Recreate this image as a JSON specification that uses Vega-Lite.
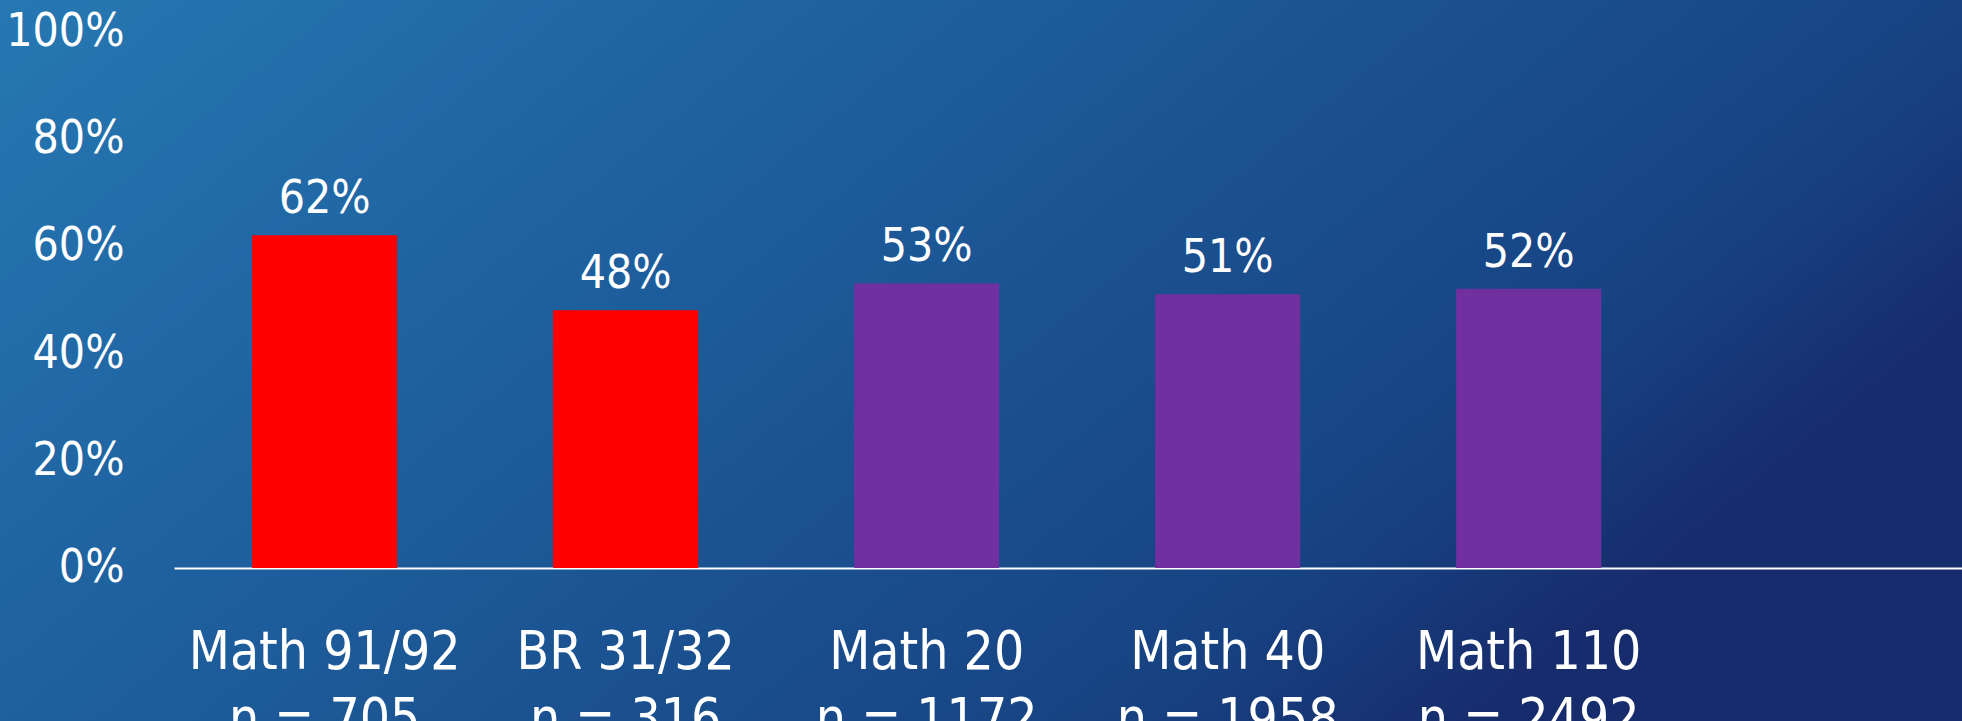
{
  "$schema": "https://vega.github.io/schema/vega-lite/v6.json",
  "width": 1962,
  "height": 721,
  "autosize": "none",
  "padding": 0,
  "background": "#1d5592",
  "config": {
    "font": "DejaVu Sans Condensed, DejaVu Sans, sans-serif",
    "view": {
      "stroke": null,
      "fill": {
        "gradient": "linear",
        "x1": 0, "y1": 0, "x2": 1, "y2": 0.45,
        "stops": [
          {"offset": 0, "color": "#2678b2"},
          {"offset": 0.33, "color": "#1f63a1"},
          {"offset": 0.6, "color": "#1b5291"},
          {"offset": 0.85, "color": "#174282"},
          {"offset": 1, "color": "#172c6c"}
        ]
      }
    }
  },
  "data": {
    "values": [
      {"label": "Math 91/92|n = 705", "value": 0.62, "group": "A"},
      {"label": "BR 31/32|n = 316", "value": 0.48, "group": "A"},
      {"label": "Math 20|n = 1172", "value": 0.53, "group": "B"},
      {"label": "Math 40|n = 1958", "value": 0.51, "group": "B"},
      {"label": "Math 110|n = 2492", "value": 0.52, "group": "B"}
    ]
  },
  "encoding": {
    "x": {
      "field": "label",
      "type": "nominal",
      "sort": null,
      "scale": {"range": [174, 1962], "paddingInner": 0.518, "paddingOuter": 0.729, "align": 0.178},
      "axis": {
        "title": null,
        "orient": "bottom",
        "offset": -153,
        "domainColor": "#ffffff",
        "domainWidth": 2,
        "ticks": false,
        "labelAngle": 0,
        "labelPadding": 58,
        "labelFontSize": 53,
        "labelColor": "#ffffff",
        "labelLineHeight": 67,
        "labelBaseline": "top",
        "labelLimit": 600,
        "labelExpr": "split(datum.label, '|')"
      }
    },
    "y": {
      "field": "value",
      "type": "quantitative",
      "scale": {"domain": [-0.285, 1.058], "nice": false, "zero": false},
      "axis": {
        "title": null,
        "values": [0, 0.2, 0.4, 0.6, 0.8, 1],
        "format": ".0%",
        "domain": false,
        "ticks": false,
        "grid": false,
        "offset": -124,
        "labelPadding": 0,
        "labelFontSize": 46,
        "labelColor": "#ffffff",
        "labelBaseline": "middle"
      }
    }
  },
  "layer": [
    {
      "mark": {"type": "bar"},
      "encoding": {
        "y2": {"datum": 0},
        "color": {
          "field": "group",
          "type": "nominal",
          "scale": {"domain": ["A", "B"], "range": ["#ff0000", "#7030a0"]},
          "legend": null
        }
      }
    },
    {
      "mark": {"type": "text", "dy": -22, "baseline": "alphabetic", "fontSize": 46, "color": "#ffffff"},
      "encoding": {
        "text": {"field": "value", "type": "quantitative", "format": ".0%"}
      }
    }
  ]
}
